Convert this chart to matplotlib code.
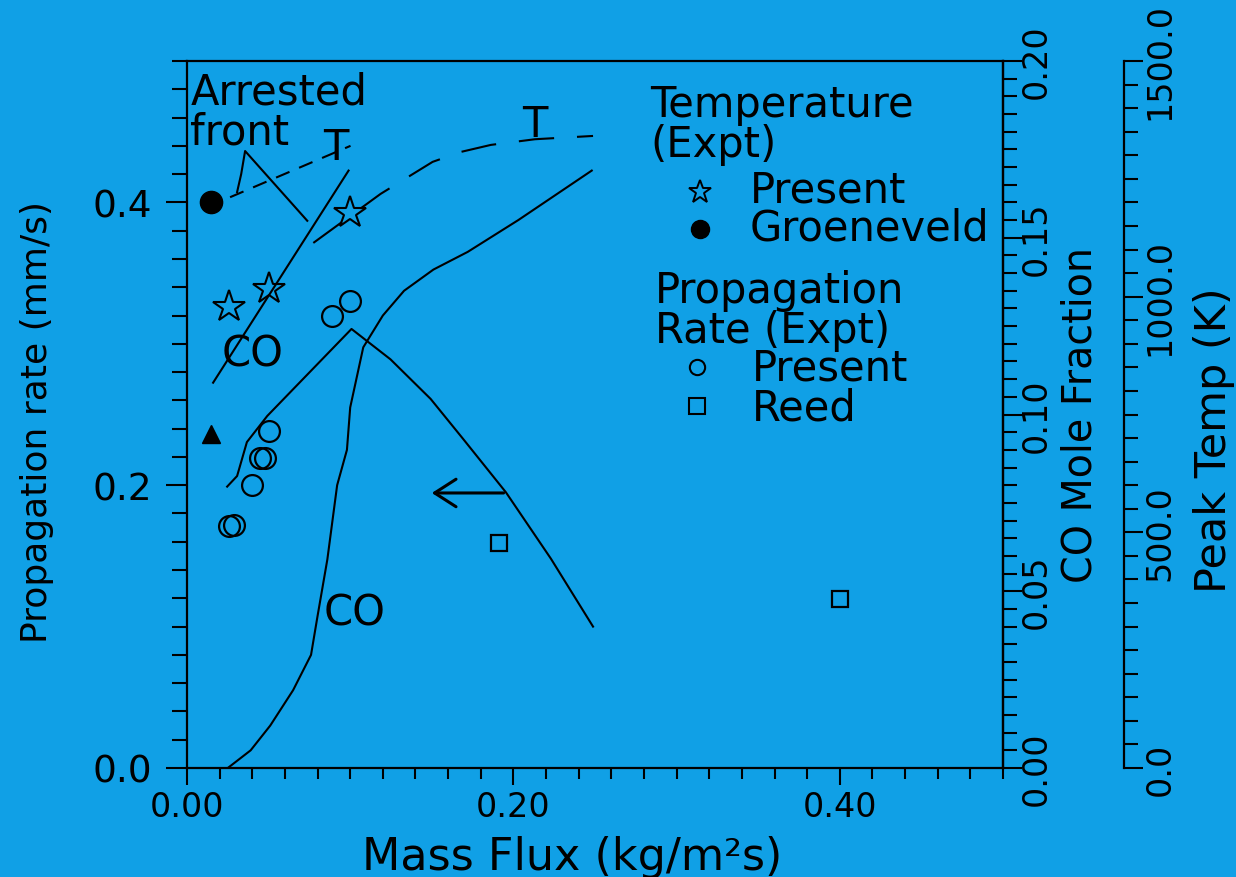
import matplotlib
matplotlib.use("Agg")
import matplotlib.pyplot as plt
from matplotlib.ticker import MultipleLocator, FixedLocator

# ---------------- data ----------------
# Propagation rate, experiments (Present) : mass flux, rate (mm/s)
rate_present_x = [0.050, 0.045, 0.048, 0.040, 0.026, 0.029, 0.089, 0.100]
rate_present_y = [0.238, 0.219, 0.219, 0.200, 0.171, 0.172, 0.320, 0.330]
# Propagation rate, Reed
rate_reed_x = [0.191, 0.400]
rate_reed_y = [0.159, 0.1195]
# Unlabelled filled triangle
tri_x = [0.015]
tri_y = [0.236]

# Temperature experiments (K)
temp_present_x = [0.026, 0.050, 0.100]
temp_present_T = [978, 1016, 1177]
temp_groen_x = [0.015]
temp_groen_T = [1201]

# Predicted propagation rate (solid)
pred_rate_x = [0.0246, 0.0307, 0.0367, 0.0492, 0.1008, 0.1247, 0.1493, 0.1690, 0.1954, 0.2230, 0.2488]
pred_rate_y = [0.199, 0.2065, 0.2305, 0.249, 0.3105, 0.289, 0.261, 0.233, 0.195, 0.148, 0.100]

# Predicted CO mole fraction (S-curve)
pred_co_x = [0.025, 0.039, 0.051, 0.065, 0.076, 0.080, 0.086, 0.092, 0.098, 0.100,
             0.108, 0.120, 0.133, 0.151, 0.172, 0.203, 0.248]
pred_co_y = [0.000, 0.005, 0.012, 0.022, 0.032, 0.043, 0.059, 0.080, 0.090, 0.102,
             0.119, 0.128, 0.135, 0.141, 0.146, 0.155, 0.169]

# CO line near arrested front (straight)
arr_co_x = [0.016, 0.099]
arr_co_y = [0.109, 0.169]

# Predicted peak temperature (long dashes)
pred_T_x = [0.0774, 0.1186, 0.1505, 0.1677, 0.1862, 0.2132, 0.2488]
pred_T = [1114, 1218, 1286, 1307, 1322, 1334, 1341]

# Arrested-front temperature (short dashes)
arr_T_x = [0.0264, 0.1002]
arr_T = [1211, 1320]

# Arrested-front marker line (solid)
front_x = [0.0307, 0.0332, 0.0356, 0.0737]
front_T = [1222, 1260, 1309, 1161]

# Arrow pointing to left axis
arrow_tail = (0.194, 0.1945)
arrow_head = (0.150, 0.1945)

# Ticks
x_ticks = [0.0, 0.2, 0.4]
x_tick_labels = ["0.00", "0.20", "0.40"]
y_ticks = [0.0, 0.2, 0.4]
y_tick_labels = ["0.0", "0.2", "0.4"]
co_ticks = [0.0, 0.05, 0.10, 0.15, 0.20]
co_tick_labels = ["0.00", "0.05", "0.10", "0.15", "0.20"]
t_ticks = [0, 500, 1000, 1500]
t_tick_labels = ["0.0", "500.0", "1000.0", "1500.0"]

# ---------------- style ----------------
BG = "#10A0E6"
plt.rcParams["font.family"] = ["DejaVu Sans"]
FS_TICK = 24
FS_TXT = 30

fig = plt.figure(figsize=(12.36, 8.78), dpi=100, facecolor=BG)
ax = fig.add_axes([187 / 1236, 109 / 878, 816 / 1236, 707 / 878])
ax.set_facecolor(BG)
ax.set_xlim(0, 0.5)
ax.set_ylim(0, 0.5)

for s in ax.spines.values():
    s.set_linewidth(1.6)

ax.xaxis.set_major_locator(FixedLocator(x_ticks))
ax.set_xticklabels(x_tick_labels)
ax.xaxis.set_minor_locator(MultipleLocator(0.02))
ax.yaxis.set_major_locator(FixedLocator(y_ticks))
ax.set_yticklabels(y_tick_labels)
ax.yaxis.set_minor_locator(MultipleLocator(0.02))
ax.tick_params(axis="x", which="major", direction="out", length=12, width=1.5,
               labelsize=FS_TICK, pad=4)
ax.tick_params(axis="x", which="minor", direction="out", length=8, width=1.5)
ax.tick_params(axis="y", which="major", direction="out", length=15, width=1.5,
               labelsize=27, pad=10)
ax.tick_params(axis="y", which="minor", direction="out", length=11, width=1.5)

# CO axis
ax_co = ax.twinx()
ax_co.set_ylim(0, 0.2)
for k in ["left", "top", "bottom"]:
    ax_co.spines[k].set_visible(False)
ax_co.spines["right"].set_linewidth(1.6)
ax_co.yaxis.set_major_locator(FixedLocator(co_ticks))
ax_co.set_yticklabels(co_tick_labels, rotation=90, va="center")
ax_co.yaxis.set_minor_locator(MultipleLocator(0.005))
ax_co.tick_params(axis="y", which="major", direction="out", length=14, width=1.5,
                  labelsize=FS_TICK, pad=-2)
ax_co.tick_params(axis="y", which="minor", direction="out", length=10, width=1.5)

# Temperature axis
ax_t = ax.twinx()
ax_t.set_ylim(0, 1500)
ax_t.spines["right"].set_position(("axes", (1124 - 187) / 816))
for k in ["left", "top", "bottom"]:
    ax_t.spines[k].set_visible(False)
ax_t.spines["right"].set_linewidth(1.6)
ax_t.yaxis.set_major_locator(FixedLocator(t_ticks))
ax_t.set_yticklabels(t_tick_labels, rotation=90, va="center")
ax_t.yaxis.set_minor_locator(MultipleLocator(50))
ax_t.tick_params(axis="y", which="major", direction="out", length=14, width=1.5,
                 labelsize=FS_TICK, pad=0)
ax_t.tick_params(axis="y", which="minor", direction="out", length=10, width=1.5)

# ---------------- curves ----------------
LW = 1.5
ax.plot(pred_rate_x, pred_rate_y, color="black", lw=LW)
ax_co.plot(pred_co_x, pred_co_y, color="black", lw=LW)
ax_co.plot(arr_co_x, arr_co_y, color="black", lw=LW)
ax_t.plot(pred_T_x, pred_T, color="black", lw=LW, dashes=(17, 11))
ax_t.plot(arr_T_x, arr_T, color="black", lw=LW, dashes=(7, 5))
ax_t.plot(front_x, front_T, color="black", lw=LW)

ax.annotate("", xy=arrow_head, xytext=arrow_tail,
            arrowprops=dict(arrowstyle="->,head_length=0.7,head_width=0.45",
                            lw=2.2, color="black", mutation_scale=22,
                            shrinkA=0, shrinkB=0))

# ---------------- markers ----------------
ax.plot(rate_present_x, rate_present_y, "o", ms=15, mfc="none", mec="black", mew=1.6)
ax.plot(rate_reed_x, rate_reed_y, "s", ms=12, mfc="none", mec="black", mew=1.6)
ax.plot(tri_x, tri_y, "^", ms=13, color="black")
ax_t.plot(temp_present_x, temp_present_T, "*", ms=24, mfc="none", mec="black", mew=1.5)
ax_t.plot(temp_groen_x, temp_groen_T, "o", ms=16, color="black")

# ---------------- texts ----------------
ax.text(0.002, 0.493, "Arrested", fontsize=FS_TXT, ha="left", va="top")
ax.text(0.002, 0.465, "front", fontsize=FS_TXT, ha="left", va="top")
ax.text(0.091, 0.4395, "T", fontsize=FS_TXT, ha="center", va="center")
ax.text(0.213, 0.4555, "T", fontsize=FS_TXT, ha="center", va="center")
ax.text(0.0405, 0.293, "CO", fontsize=FS_TXT, ha="center", va="center")
ax.text(0.103, 0.110, "CO", fontsize=FS_TXT, ha="center", va="center")


def px(xp, yp):
    return ((xp - 187) / 816, (769 - yp) / 707)


tr = ax.transAxes
ax.text(*px(650, 84), "Temperature", transform=tr, fontsize=FS_TXT, ha="left", va="top")
ax.text(*px(650, 124), "(Expt)", transform=tr, fontsize=FS_TXT, ha="left", va="top")
ax.plot(*[[v] for v in px(700, 193)], "*", transform=tr, ms=17, mfc="none",
        mec="black", mew=1.4, clip_on=False)
ax.text(*px(750, 191), "Present", transform=tr, fontsize=FS_TXT, ha="left", va="center")
ax.plot(*[[v] for v in px(700, 230)], "o", transform=tr, ms=13, color="black",
        clip_on=False)
ax.text(*px(750, 229), "Groeneveld", transform=tr, fontsize=FS_TXT, ha="left", va="center")
ax.text(*px(655, 270), "Propagation", transform=tr, fontsize=FS_TXT, ha="left", va="top")
ax.text(*px(655, 310), "Rate (Expt)", transform=tr, fontsize=FS_TXT, ha="left", va="top")
ax.plot(*[[v] for v in px(697, 368)], "o", transform=tr, ms=11, mfc="none",
        mec="black", mew=1.5, clip_on=False)
ax.text(*px(752, 369), "Present", transform=tr, fontsize=FS_TXT, ha="left", va="center")
ax.plot(*[[v] for v in px(697, 407)], "s", transform=tr, ms=11, mfc="none",
        mec="black", mew=1.5, clip_on=False)
ax.text(*px(752, 409), "Reed", transform=tr, fontsize=FS_TXT, ha="left", va="center")

# ---------------- axis labels ----------------
ax.set_xlabel("Mass Flux (kg/m\u00b2s)", fontsize=32)
ax.xaxis.set_label_coords((572 - 187) / 816, (769 - 836) / 707)
ax.set_ylabel("Propagation rate (mm/s)", fontsize=26)
ax.yaxis.set_label_coords((54 - 187) / 816, (769 - 422) / 707)
ax_co.set_ylabel("CO Mole Fraction", fontsize=28.5)
ax_co.yaxis.set_label_coords((1060 - 187) / 816, (769 - 415) / 707)
ax_t.set_ylabel("Peak Temp (K)", fontsize=31)
ax_t.yaxis.set_label_coords((1193 - 187) / 816, (769 - 440) / 707)

fig.savefig("out.png", dpi=100, facecolor=BG)
